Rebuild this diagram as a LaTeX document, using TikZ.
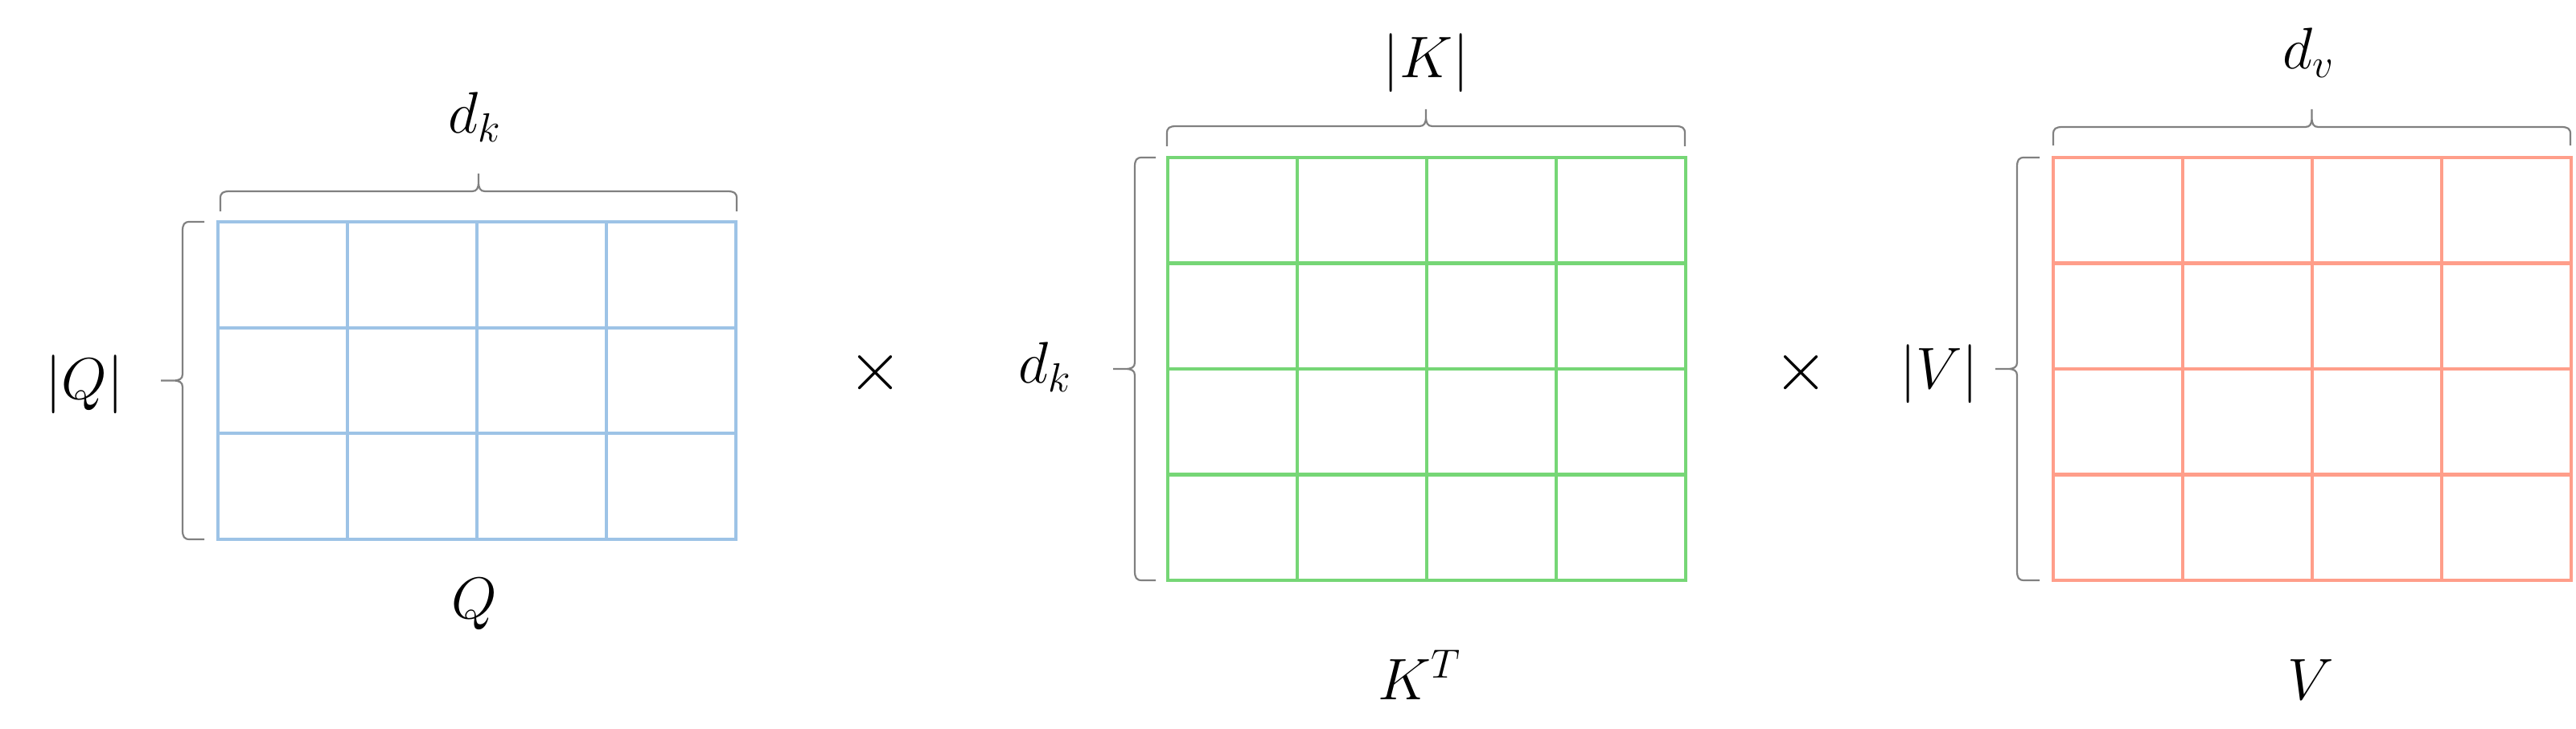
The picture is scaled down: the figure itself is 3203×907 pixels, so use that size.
\documentclass[tikz,border=0pt]{standalone}
\usepackage{amsmath}
\definecolor{qblue}{RGB}{157,195,230}
\definecolor{kgreen}{RGB}{118,214,118}
\definecolor{vred}{RGB}{255,158,138}
\definecolor{brgray}{RGB}{128,128,128}
\tikzset{
  brc/.style={draw=brgray, line width=0.022cm},
  gridln/.style={line width=0.042cm},
  lbl/.style={inner sep=0pt, anchor=base, font=\fontsize{20}{24}\selectfont},
  timesop/.style={inner sep=0pt, font=\fontsize{26}{30}\selectfont}
}
% horizontal (top) brace: x1 x2 yEnd yLine yTip
\newcommand{\hbr}[5]{%
  \pgfmathsetmacro\bmid{(#1+#2)/2}%
  \draw[brc] (#1,#3) -- (#1,#4+9) .. controls (#1,#4+2) and (#1+3,#4) .. (#1+12,#4)
    -- (\bmid-8,#4) .. controls (\bmid-2,#4) and (\bmid,#4-4) .. (\bmid,#4-12) -- (\bmid,#5)
    -- (\bmid,#4-12) .. controls (\bmid,#4-4) and (\bmid+2,#4) .. (\bmid+8,#4)
    -- (#2-12,#4) .. controls (#2-3,#4) and (#2,#4+2) .. (#2,#4+9) -- (#2,#3);}
% vertical (left) brace: y1 y2 xEnd xLine xTip
\newcommand{\vbr}[5]{%
  \pgfmathsetmacro\bmid{(#1+#2)/2}%
  \draw[brc] (#3,#1) -- (#4+9,#1) .. controls (#4+2,#1) and (#4,#1+3) .. (#4,#1+12)
    -- (#4,\bmid-8) .. controls (#4,\bmid-2) and (#4-4,\bmid) .. (#4-12,\bmid) -- (#5,\bmid)
    -- (#4-12,\bmid) .. controls (#4-4,\bmid) and (#4,\bmid+2) .. (#4,\bmid+8)
    -- (#4,#2-12) .. controls (#4,#2-3) and (#4+2,#2) .. (#4+9,#2) -- (#3,#2);}
\begin{document}
\begin{tikzpicture}[x=0.01cm, y=-0.01cm]
\useasboundingbox (0,0) rectangle (3203,907);
% Q matrix
\draw[gridln, draw=qblue] (271,276) rectangle (915,671);
\foreach \i in {1,2,3} \draw[gridln, draw=qblue] (271+161*\i,276) -- (271+161*\i,671);
\foreach \j in {1,2} \draw[gridln, draw=qblue] (271,276+131.7*\j) -- (915,276+131.7*\j);
% K matrix
\draw[gridln, draw=kgreen] (1452,196) rectangle (2096,722);
\foreach \i in {1,2,3} \draw[gridln, draw=kgreen] (1452+161*\i,196) -- (1452+161*\i,722);
\foreach \j in {1,2,3} \draw[gridln, draw=kgreen] (1452,196+131.5*\j) -- (2096,196+131.5*\j);
% V matrix
\draw[gridln, draw=vred] (2553,196) rectangle (3197,722);
\foreach \i in {1,2,3} \draw[gridln, draw=vred] (2553+161*\i,196) -- (2553+161*\i,722);
\foreach \j in {1,2,3} \draw[gridln, draw=vred] (2553,196+131.5*\j) -- (3197,196+131.5*\j);
% braces
\hbr{274}{916}{263}{238}{216}
\vbr{276}{671}{254}{227}{200}
\hbr{1451}{2095}{182}{157}{136}
\vbr{196}{722}{1437}{1411}{1384}
\hbr{2553}{3196}{181}{158}{136}
\vbr{196}{722}{2536}{2508}{2481}
% labels
\node[lbl] (qdk) at (591,166) {$d_k$};
\node[lbl] (qsz) at (105,497) {$|Q|$};
\node[lbl] (qname) at (590,770) {$Q$};
\node[lbl] (ksz) at (1773,97) {$|K|$};
\node[lbl] (kdk) at (1300,477) {$d_k$};
\node[lbl] (kname) at (1765,870) {$K^T$};
\node[lbl] (vdv) at (2871,86) {$d_v$};
\node[lbl] (vsz) at (2411,484) {$|V|$};
\node[lbl] (vname) at (2873,870) {$V$};
\node[timesop] (x1) at (1089,464) {$\times$};
\node[timesop] (x2) at (2239,464) {$\times$};
\end{tikzpicture}
\end{document}
